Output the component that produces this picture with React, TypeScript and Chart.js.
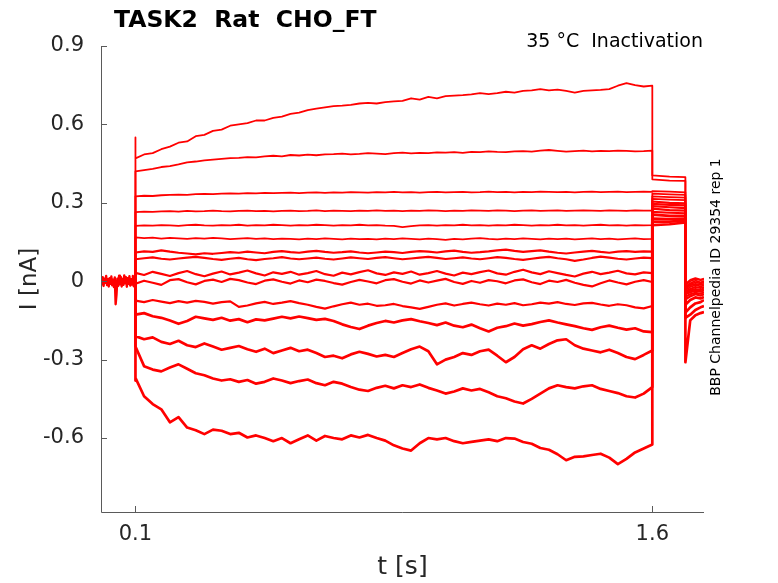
import React, { useRef, useEffect } from 'react';
import {
  Chart,
  LineController, LineElement, PointElement,
  LinearScale,
  type ChartConfiguration,
  type Plugin,
} from 'chart.js';

Chart.register(LineController, LineElement, PointElement, LinearScale);

// holding period before the step (s) and the baseline current (nA)
const baseTimes = [
  0, 0.0025, 0.005, 0.0075, 0.01, 0.0125, 0.015, 0.0175, 0.02, 0.0225,
  0.025, 0.0275, 0.03, 0.0325, 0.035, 0.0375, 0.04, 0.0425, 0.045, 0.0475,
  0.05, 0.0525, 0.055, 0.0575, 0.06, 0.0625, 0.065, 0.0675, 0.07, 0.0725,
  0.075, 0.0775, 0.08, 0.0825, 0.085, 0.0875, 0.09, 0.0925, 0.095, 0.0975,
  0.1,
];
const baseCurrent = [
  0.004, -0.012, 0.015, -0.018, 0.01, -0.006, 0.02, -0.015, 0.008, -0.02,
  0.012, -0.01, 0.018, -0.016, 0.006, -0.022, 0.014, -0.088, -0.05, 0.01,
  -0.018, 0.021, -0.012, 0.016, -0.02, 0.009, -0.014, 0.022, -0.008, 0.015,
  -0.021, 0.012, -0.01, 0.019, -0.017, 0.008, -0.013, 0.02, -0.019, 0.011,
  0,
];

// step pulse sample times (s)
const stepTimes = [
  0.1, 0.125, 0.15, 0.175, 0.2, 0.225, 0.25, 0.275, 0.3, 0.325,
  0.35, 0.375, 0.4, 0.425, 0.45, 0.475, 0.5, 0.525, 0.55, 0.575,
  0.6, 0.625, 0.65, 0.675, 0.7, 0.725, 0.75, 0.775, 0.8, 0.825,
  0.85, 0.875, 0.9, 0.925, 0.95, 0.975, 1.0, 1.025, 1.05, 1.075,
  1.1, 1.125, 1.15, 1.175, 1.2, 1.225, 1.25, 1.275, 1.3, 1.325,
  1.35, 1.375, 1.4, 1.425, 1.45, 1.475, 1.5, 1.525, 1.55, 1.575,
  1.6,
];

// current during the step, one array per sweep (nA)
const sweep1 = [
  0.47, 0.485, 0.49, 0.505, 0.515, 0.53, 0.535, 0.555, 0.56, 0.575,
  0.58, 0.595, 0.6, 0.605, 0.615, 0.615, 0.625, 0.63, 0.64, 0.645,
  0.655, 0.66, 0.665, 0.67, 0.672, 0.675, 0.68, 0.682, 0.68, 0.685,
  0.688, 0.69, 0.7, 0.695, 0.705, 0.7, 0.708, 0.71, 0.712, 0.715,
  0.72, 0.716, 0.72, 0.725, 0.722, 0.728, 0.73, 0.735, 0.73, 0.733,
  0.728, 0.722, 0.728, 0.73, 0.732, 0.735, 0.748, 0.758, 0.75, 0.745,
  0.748,
];
const sweep2 = [
  0.42, 0.425, 0.43, 0.437, 0.44, 0.447, 0.455, 0.458, 0.462, 0.465,
  0.468, 0.471, 0.472, 0.475, 0.474, 0.478, 0.48, 0.478, 0.483, 0.481,
  0.484, 0.482, 0.485, 0.486, 0.488, 0.485, 0.487, 0.49, 0.488, 0.486,
  0.49, 0.492, 0.489, 0.491, 0.49, 0.493, 0.492, 0.494, 0.491, 0.495,
  0.494, 0.497, 0.495, 0.494, 0.497, 0.498, 0.496, 0.5, 0.502, 0.499,
  0.496, 0.498, 0.5, 0.497, 0.499, 0.498, 0.5, 0.499, 0.497, 0.498,
  0.5,
];
const sweep3 = [
  0.325, 0.327, 0.326, 0.329, 0.33, 0.331, 0.33, 0.333, 0.334, 0.333,
  0.335, 0.336, 0.335, 0.337, 0.336, 0.338, 0.337, 0.338, 0.339, 0.337,
  0.339, 0.34, 0.338, 0.34, 0.339, 0.341, 0.34, 0.339, 0.341, 0.34,
  0.342, 0.34, 0.341, 0.339, 0.341, 0.342, 0.34, 0.341, 0.342, 0.34,
  0.341, 0.343, 0.341, 0.342, 0.34, 0.342, 0.341, 0.343, 0.342, 0.341,
  0.342, 0.34, 0.342, 0.343, 0.341, 0.342, 0.343, 0.341, 0.342, 0.343,
  0.342,
];
const sweep4 = [
  0.264, 0.266, 0.265, 0.267, 0.268, 0.266, 0.269, 0.267, 0.268, 0.27,
  0.268, 0.267, 0.269, 0.27, 0.268, 0.269, 0.267, 0.269, 0.27, 0.268,
  0.269, 0.271, 0.268, 0.27, 0.269, 0.268, 0.27, 0.269, 0.271, 0.269,
  0.27, 0.268, 0.27, 0.269, 0.271, 0.27, 0.268, 0.27, 0.269, 0.271,
  0.27, 0.269, 0.271, 0.27, 0.268, 0.27, 0.271, 0.269, 0.27, 0.271,
  0.269, 0.27, 0.271, 0.27, 0.269, 0.271, 0.27, 0.269, 0.271, 0.27,
  0.27,
];
const sweep5 = [
  0.212, 0.214, 0.213, 0.215, 0.214, 0.212, 0.215, 0.216, 0.214, 0.213,
  0.215, 0.214, 0.216, 0.213, 0.215, 0.214, 0.216, 0.215, 0.213, 0.215,
  0.214, 0.216, 0.215, 0.213, 0.215, 0.214, 0.216, 0.214, 0.215, 0.213,
  0.212, 0.207, 0.211, 0.214, 0.215, 0.213, 0.215, 0.214, 0.216, 0.214,
  0.215, 0.213, 0.215, 0.214, 0.216, 0.215, 0.213, 0.215, 0.214, 0.216,
  0.214, 0.215, 0.213, 0.215, 0.216, 0.214, 0.215, 0.213, 0.215, 0.214,
  0.215,
];
const sweep6 = [
  0.168, 0.165, 0.167, 0.163, 0.166, 0.164, 0.162, 0.165, 0.163, 0.166,
  0.164, 0.161, 0.163, 0.165, 0.162, 0.164, 0.161, 0.163, 0.162, 0.16,
  0.163, 0.161, 0.164, 0.162, 0.16, 0.163, 0.161, 0.162, 0.16, 0.163,
  0.161, 0.164, 0.162, 0.16, 0.163, 0.161, 0.158, 0.162, 0.16, 0.163,
  0.165, 0.162, 0.16, 0.163, 0.161, 0.164, 0.162, 0.16, 0.163, 0.161,
  0.163, 0.16, 0.162, 0.164, 0.161, 0.163, 0.16, 0.162, 0.164, 0.161,
  0.162,
];
const sweep7 = [
  0.11, 0.114, 0.112, 0.118, 0.113, 0.109, 0.106, 0.103, 0.107, 0.105,
  0.108, 0.111, 0.109, 0.113, 0.11, 0.107, 0.112, 0.115, 0.111, 0.109,
  0.113, 0.116, 0.112, 0.109, 0.111, 0.114, 0.11, 0.107, 0.11, 0.113,
  0.111, 0.108, 0.112, 0.115, 0.113, 0.11, 0.114, 0.117, 0.112, 0.109,
  0.111, 0.114, 0.118, 0.121, 0.116, 0.112, 0.115, 0.118, 0.113, 0.109,
  0.106, 0.11, 0.113, 0.116, 0.112, 0.109, 0.113, 0.115, 0.112, 0.114,
  0.113,
];
const sweep8 = [
  0.084, 0.088, 0.091, 0.086, 0.083, 0.087, 0.09, 0.093, 0.089, 0.085,
  0.082, 0.086, 0.089, 0.084, 0.081, 0.085, 0.088, 0.092, 0.087, 0.084,
  0.087, 0.09, 0.086, 0.083, 0.087, 0.091, 0.088, 0.085, 0.089, 0.092,
  0.088, 0.084, 0.087, 0.09, 0.093, 0.089, 0.085, 0.088, 0.091, 0.087,
  0.084, 0.088, 0.092, 0.089, 0.085, 0.082, 0.086, 0.09, 0.093, 0.088,
  0.084, 0.078, 0.083, 0.089, 0.094, 0.09, 0.086, 0.083, 0.087, 0.09,
  0.088,
];
const sweep9 = [
  0.032, 0.024, 0.036, 0.028, 0.02, 0.031, 0.039, 0.027, 0.019, 0.029,
  0.037, 0.026, 0.033, 0.041, 0.03, 0.022, 0.034, 0.028, 0.036, 0.025,
  0.031, 0.039, 0.027, 0.021, 0.033, 0.026, 0.035, 0.042, 0.03, 0.024,
  0.034, 0.028, 0.037, 0.025, 0.031, 0.039, 0.029, 0.022, 0.033, 0.027,
  0.035, 0.041, 0.03, 0.025, 0.036, 0.044, 0.034, 0.027, 0.038, 0.031,
  0.024, 0.018, 0.029, 0.036, 0.027, 0.033, 0.04, 0.03, 0.026, 0.034,
  0.031,
];
const sweep10 = [
  -0.01, 0.002, -0.006, -0.014, 0.004, 0.008, -0.004, -0.012, 0.001, 0.006,
  -0.003, 0.009, 0.004, -0.005, -0.011, 0.002, 0.007, -0.002, -0.009, 0.003,
  -0.004, 0.006, 0.001, -0.007, -0.013, -0.003, 0.005, -0.001, -0.008, 0.004,
  0.008, -0.002, -0.009, 0.003, -0.005, 0.002, 0.009, -0.003, -0.01, 0.001,
  -0.006, 0.004, 0.0, -0.008, 0.003, 0.007, -0.004, -0.011, 0.002, -0.003,
  0.005, -0.006, -0.014, -0.02, -0.008, 0.003, -0.005, -0.012, -0.002, 0.004,
  -0.003,
];
const sweep11 = [
  -0.074, -0.08, -0.072, -0.078, -0.084, -0.076, -0.082, -0.075, -0.079, -0.086,
  -0.08, -0.077, -0.098, -0.093, -0.085, -0.079, -0.087, -0.082, -0.076, -0.084,
  -0.09, -0.098, -0.105, -0.096, -0.088, -0.082, -0.09, -0.086, -0.094, -0.092,
  -0.087, -0.095, -0.1, -0.106, -0.098, -0.09, -0.085, -0.093, -0.087, -0.082,
  -0.088, -0.093, -0.086, -0.09, -0.084, -0.092, -0.088, -0.082, -0.086, -0.08,
  -0.087, -0.091, -0.085, -0.083, -0.089, -0.094, -0.088, -0.092, -0.1, -0.104,
  -0.095,
];
const sweep12 = [
  -0.128, -0.122, -0.134, -0.14, -0.15, -0.163, -0.152, -0.136, -0.142, -0.148,
  -0.14, -0.151, -0.145, -0.157, -0.146, -0.15, -0.143, -0.136, -0.142, -0.135,
  -0.141, -0.148, -0.144, -0.152, -0.165, -0.175, -0.183, -0.17, -0.16, -0.152,
  -0.158, -0.15, -0.145, -0.153, -0.16, -0.168, -0.158, -0.17, -0.176, -0.166,
  -0.18, -0.192, -0.178, -0.172, -0.162, -0.17, -0.164, -0.156, -0.15, -0.158,
  -0.165, -0.172, -0.18, -0.186, -0.176, -0.17, -0.178, -0.185, -0.18, -0.192,
  -0.195,
];
const sweep13 = [
  -0.21, -0.222, -0.215, -0.232, -0.24, -0.228, -0.245, -0.252, -0.238, -0.25,
  -0.262, -0.255, -0.248, -0.26, -0.27, -0.258, -0.275, -0.265, -0.255, -0.268,
  -0.262, -0.275, -0.29, -0.285, -0.295, -0.28, -0.27, -0.278, -0.288, -0.282,
  -0.29, -0.275, -0.26, -0.25, -0.268, -0.318, -0.3, -0.29, -0.275, -0.282,
  -0.268, -0.262, -0.285, -0.31, -0.29, -0.26, -0.245, -0.258, -0.24, -0.226,
  -0.222, -0.245, -0.258, -0.265, -0.272, -0.262, -0.275, -0.29, -0.298, -0.282,
  -0.265,
];
const sweep14 = [
  -0.25, -0.325, -0.338, -0.345, -0.33, -0.318, -0.335, -0.352, -0.36, -0.372,
  -0.38, -0.375, -0.385, -0.378, -0.392, -0.385, -0.372, -0.38, -0.39, -0.382,
  -0.376, -0.39, -0.398, -0.385, -0.392, -0.405, -0.415, -0.42, -0.408, -0.4,
  -0.41, -0.398, -0.405, -0.395, -0.408, -0.418, -0.43, -0.422, -0.41, -0.418,
  -0.412, -0.425, -0.44, -0.448, -0.46, -0.468, -0.45, -0.43, -0.41, -0.398,
  -0.405, -0.41, -0.402, -0.398, -0.412, -0.42, -0.428, -0.44, -0.445, -0.43,
  -0.405,
];
const sweep15 = [
  -0.37, -0.44, -0.47, -0.49, -0.54, -0.52, -0.56, -0.57, -0.585, -0.568,
  -0.572, -0.585, -0.58, -0.598, -0.59, -0.6, -0.612, -0.6, -0.62, -0.605,
  -0.59, -0.61, -0.592, -0.6, -0.605, -0.59, -0.598, -0.588, -0.6, -0.61,
  -0.628, -0.64, -0.648, -0.62, -0.6, -0.605, -0.6, -0.612, -0.62, -0.615,
  -0.61, -0.605, -0.612, -0.6, -0.602, -0.615, -0.622, -0.638, -0.645, -0.662,
  -0.685, -0.672, -0.67, -0.665, -0.66, -0.675, -0.7, -0.68, -0.655, -0.64,
  -0.625,
];
const sweeps = [
  sweep1, sweep2, sweep3, sweep4, sweep5, sweep6, sweep7, sweep8,
  sweep9, sweep10, sweep11, sweep12, sweep13, sweep14, sweep15,
];

// capacitive transient at step onset (nA)
const onsetPeak = [
  0.55, 0.42, 0.325, 0.264, 0.212, 0.168, 0.11, 0.084,
  0.032, -0.01, -0.074, -0.128, -0.21, -0.25, -0.38,
];

// tail after the step
const tailTimes = [1.6, 1.65, 1.696];
const tailCurrent = [
  [0.405, 0.4, 0.398],
  [0.39, 0.385, 0.384],
  [0.345, 0.343, 0.34],
  [0.335, 0.332, 0.33],
  [0.325, 0.322, 0.32],
  [0.315, 0.312, 0.31],
  [0.305, 0.3, 0.298],
  [0.296, 0.292, 0.29],
  [0.287, 0.283, 0.28],
  [0.278, 0.272, 0.27],
  [0.265, 0.262, 0.26],
  [0.255, 0.25, 0.25],
  [0.24, 0.238, 0.24],
  [0.228, 0.228, 0.232],
  [0.215, 0.218, 0.225],
];

// return to holding
const endTimes = [1.696, 1.71, 1.725, 1.74, 1.75];
const endCurrent = [
  [-0.01, 0.005, 0.012, 0.006, 0.01],
  [-0.015, 0.0, 0.008, 0.004, 0.006],
  [-0.02, -0.008, 0.002, -0.004, 0.0],
  [-0.025, -0.012, -0.004, -0.008, -0.005],
  [-0.03, -0.016, -0.01, -0.014, -0.01],
  [-0.035, -0.022, -0.015, -0.02, -0.016],
  [-0.04, -0.03, -0.022, -0.026, -0.022],
  [-0.045, -0.036, -0.03, -0.034, -0.028],
  [-0.05, -0.042, -0.036, -0.04, -0.035],
  [-0.06, -0.05, -0.044, -0.048, -0.042],
  [-0.07, -0.058, -0.05, -0.055, -0.05],
  [-0.09, -0.072, -0.062, -0.066, -0.06],
  [-0.12, -0.1, -0.085, -0.08, -0.072],
  [-0.14, -0.128, -0.11, -0.1, -0.095],
  [-0.31, -0.15, -0.13, -0.122, -0.118],
];

const xTicks = [0.1, 1.6];
const xTickLabels = ['0.1', '1.6'];
const yTicks = [-0.6, -0.3, 0, 0.3, 0.6, 0.9];
const yTickLabels = ['-0.6', '-0.3', '0', '0.3', '0.6', '0.9'];

const TRACE = '#ff0000';
const AXIS = '#5a5a5a';
const TEXT = '#262626';
const FONT = "'DejaVu Sans', sans-serif";

type Pt = { x: number; y: number };

function buildSweep(k: number): Pt[] {
  const pts: Pt[] = [{ x: 0.1, y: 0 }, { x: 0.1, y: onsetPeak[k] }];
  stepTimes.forEach((t, i) => pts.push({ x: t, y: sweeps[k][i] }));
  tailTimes.forEach((t, i) => pts.push({ x: t, y: tailCurrent[k][i] }));
  endTimes.forEach((t, i) => pts.push({ x: t, y: endCurrent[k][i] }));
  return pts;
}

// noisier sweeps look thicker in the recording
const sweepWidth = (k: number) => (k < 6 ? 1.8 : k < 11 ? 2.2 : 2.7);

export default function App() {
  const canvasRef = useRef<HTMLCanvasElement>(null);
  const chartRef = useRef<Chart | null>(null);

  useEffect(() => {
    if (!canvasRef.current) return;
    chartRef.current?.destroy();

    const datasets = [
      {
        data: baseTimes.map((t, i) => ({ x: t, y: baseCurrent[i] })),
        borderColor: TRACE,
        borderWidth: 2.4,
        pointRadius: 0,
      },
      ...sweeps.map((_, k) => ({
        data: buildSweep(k),
        borderColor: TRACE,
        borderWidth: sweepWidth(k),
        pointRadius: 0,
      })),
    ];

    const decor: Plugin = {
      id: 'decor',
      afterDraw(chart) {
        const { ctx, chartArea: a, scales: { x, y } } = chart;
        ctx.save();
        // axes with inward ticks
        ctx.strokeStyle = AXIS;
        ctx.lineWidth = 1;
        ctx.beginPath();
        ctx.moveTo(a.left + 0.5, a.top);
        ctx.lineTo(a.left + 0.5, a.bottom + 0.5);
        ctx.lineTo(a.right, a.bottom + 0.5);
        yTicks.forEach(v => {
          const py = Math.round(y.getPixelForValue(v)) + 0.5;
          ctx.moveTo(a.left, py);
          ctx.lineTo(a.left + 6, py);
        });
        xTicks.forEach(v => {
          const px = Math.round(x.getPixelForValue(v)) + 0.5;
          ctx.moveTo(px, a.bottom);
          ctx.lineTo(px, a.bottom - 6);
        });
        ctx.stroke();

        // title and notes
        ctx.fillStyle = '#000';
        ctx.font = `bold 23.5px ${FONT}`;
        ctx.textAlign = 'left';
        ctx.textBaseline = 'alphabetic';
        ctx.fillText('TASK2  Rat  CHO_FT', 114, 27);

        ctx.font = `19px ${FONT}`;
        ctx.textAlign = 'right';
        ctx.fillText('35 °C  Inactivation', 703, 47);

        ctx.fillStyle = TEXT;
        ctx.font = `25px ${FONT}`;
        ctx.textAlign = 'center';
        ctx.textBaseline = 'middle';
        ctx.fillText('t [s]', (a.left + a.right) / 2, 567);

        ctx.save();
        ctx.font = `23px ${FONT}`;
        ctx.translate(30, (a.top + a.bottom) / 2);
        ctx.rotate(-Math.PI / 2);
        ctx.fillText('I [nA]', 0, 0);
        ctx.restore();

        ctx.save();
        ctx.fillStyle = '#000';
        ctx.font = `14px ${FONT}`;
        ctx.translate(716, 277);
        ctx.rotate(-Math.PI / 2);
        ctx.fillText('BBP Channelpedia ID 29354 rep 1', 0, 0);
        ctx.restore();

        ctx.restore();
      },
    };

    const config: ChartConfiguration = {
      type: 'line',
      data: { datasets: datasets as any },
      options: {
        responsive: false,
        animation: false,
        parsing: false,
        normalized: true,
        layout: { padding: { top: 46, right: 74, left: 0, bottom: 0 } },
        plugins: {
          legend: { display: false },
          tooltip: { enabled: false },
        },
        elements: { line: { tension: 0, borderJoinStyle: 'round' } },
        scales: {
          x: {
            type: 'linear',
            min: 0,
            max: 1.75,
            grid: { display: false, drawTicks: false },
            border: { display: false },
            afterBuildTicks: s => { s.ticks = xTicks.map(v => ({ value: v })); },
            afterFit: s => { s.height = 71; },
            ticks: {
              padding: 10,
              color: TEXT,
              font: { size: 21, family: FONT },
              maxRotation: 0,
              autoSkip: false,
              callback: v => xTickLabels[xTicks.indexOf(Number(v))] ?? '',
            },
          },
          y: {
            type: 'linear',
            min: -0.883,
            max: 0.9,
            grid: { display: false, drawTicks: false },
            border: { display: false },
            afterBuildTicks: s => { s.ticks = yTicks.map(v => ({ value: v })); },
            afterFit: s => { s.width = 101; },
            ticks: {
              padding: 17,
              color: TEXT,
              font: { size: 21, family: FONT },
              autoSkip: false,
              callback: v => yTickLabels[yTicks.indexOf(Number(v))] ?? '',
            },
          },
        },
      },
      plugins: [decor],
    };

    chartRef.current = new Chart(canvasRef.current, config);
    return () => { chartRef.current?.destroy(); chartRef.current = null; };
  }, []);

  return (
    <div style={{ position: 'absolute', left: 0, top: 0, width: 778, height: 583, background: '#fff' }}>
      <canvas ref={canvasRef} width={778} height={583} role="img" aria-label="Current traces of TASK2 inactivation protocol" />
    </div>
  );
}
